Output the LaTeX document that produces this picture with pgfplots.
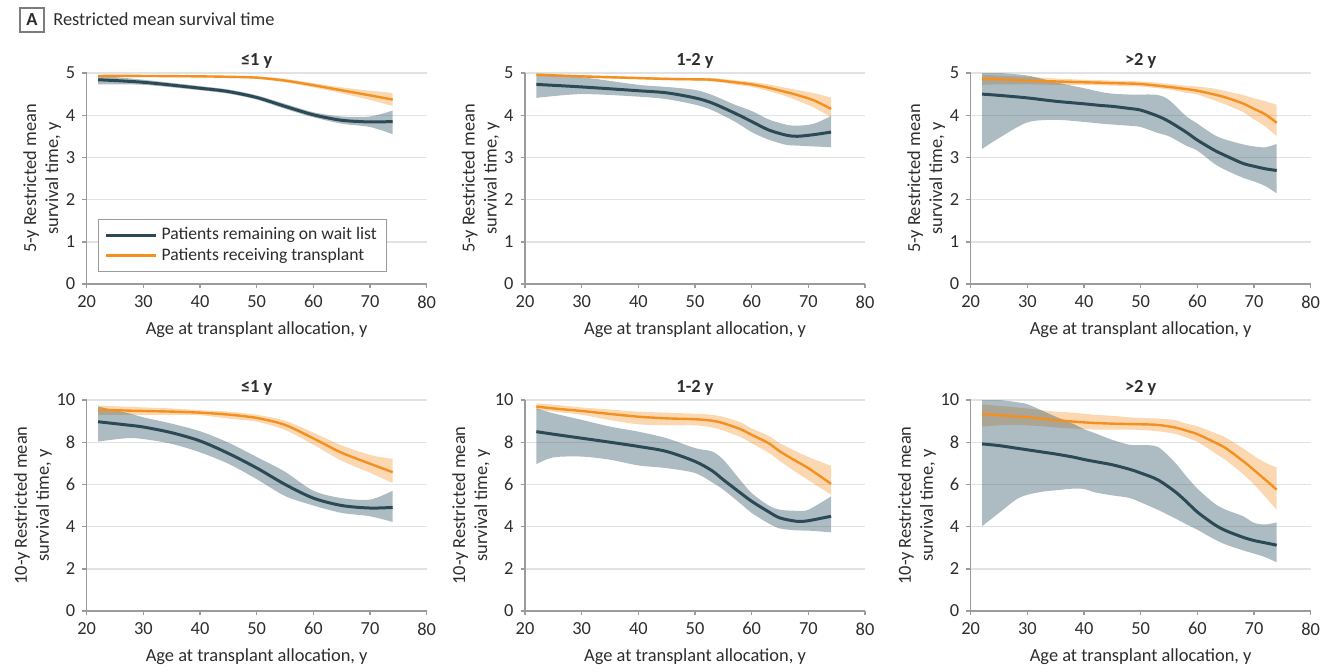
\documentclass[border=0pt]{standalone}
\usepackage{pgfplots}
\pgfplotsset{compat=1.18}
\usepackage{pgfplotstable}
\usepgfplotslibrary{fillbetween}
\usepackage{fontspec}
\setmainfont{Carlito}

\definecolor{waitc}{RGB}{44,74,86}
\definecolor{waitband}{RGB}{60,95,112}
\definecolor{transc}{RGB}{243,144,32}
\definecolor{axisgray}{RGB}{155,155,155}
\definecolor{gridgray}{RGB}{226,226,226}
\definecolor{labelc}{RGB}{45,45,45}

% columns: age, wait-list mean/low/high, transplant mean/low/high
\pgfplotstableread{
x  wm   wl   wh   tm   tl   th
22 4.84 4.73 4.94 4.93 4.90 4.96
30 4.78 4.72 4.84 4.93 4.91 4.95
40 4.64 4.59 4.69 4.92 4.90 4.94
45 4.56 4.51 4.61 4.91 4.89 4.93
50 4.42 4.37 4.47 4.89 4.86 4.92
55 4.21 4.15 4.27 4.82 4.78 4.86
60 4.01 3.95 4.07 4.71 4.66 4.76
65 3.88 3.80 3.97 4.59 4.52 4.66
70 3.84 3.72 3.97 4.47 4.36 4.58
74 3.85 3.55 4.11 4.37 4.22 4.53
}\tFiveA

\pgfplotstableread{
x  wm   wl   wh   tm   tl   th
22 4.73 4.41 4.96 4.96 4.93 4.99
30 4.67 4.50 4.90 4.92 4.89 4.95
40 4.58 4.44 4.72 4.88 4.85 4.91
45 4.53 4.38 4.67 4.86 4.83 4.89
50 4.41 4.25 4.60 4.85 4.82 4.88
53 4.29 4.12 4.48 4.84 4.80 4.88
57 4.05 3.85 4.25 4.78 4.73 4.83
60 3.85 3.60 4.10 4.73 4.67 4.79
63 3.65 3.42 3.90 4.65 4.57 4.73
66 3.53 3.30 3.78 4.55 4.45 4.65
68 3.50 3.28 3.75 4.48 4.35 4.60
71 3.54 3.26 3.80 4.35 4.18 4.52
74 3.60 3.24 3.98 4.15 3.95 4.42
}\tFiveB

\pgfplotstableread{
x  wm   wl   wh   tm   tl   th
22 4.50 3.20 5.00 4.86 4.72 4.96
25 4.47 3.46 5.00 4.85 4.73 4.94
30 4.41 3.83 4.94 4.82 4.73 4.91
35 4.33 3.89 4.78 4.80 4.72 4.87
40 4.27 3.84 4.64 4.78 4.72 4.84
43 4.23 3.80 4.55 4.77 4.71 4.83
45 4.21 3.78 4.51 4.76 4.70 4.82
48 4.16 3.75 4.49 4.75 4.69 4.81
50 4.12 3.72 4.49 4.74 4.68 4.80
53 3.98 3.58 4.48 4.70 4.64 4.77
55 3.85 3.50 4.36 4.67 4.61 4.74
58 3.60 3.28 3.98 4.62 4.53 4.70
60 3.41 3.16 3.80 4.58 4.49 4.68
63 3.17 2.85 3.53 4.49 4.35 4.63
65 3.04 2.70 3.42 4.42 4.25 4.57
68 2.86 2.52 3.31 4.28 4.08 4.48
70 2.79 2.43 3.26 4.15 3.90 4.40
72 2.73 2.32 3.24 4.02 3.73 4.33
74 2.69 2.15 3.32 3.82 3.50 4.25
}\tFiveC

\pgfplotstableread{
x  wm   wl   wh   tm   tl   th
22 8.97 8.03 9.69 9.54 9.30 9.74
27 8.82 8.19 9.40 9.50 9.30 9.68
30 8.72 8.15 9.18 9.48 9.30 9.65
35 8.45 7.92 8.88 9.45 9.30 9.60
40 8.06 7.52 8.52 9.40 9.28 9.52
45 7.47 6.98 7.98 9.31 9.12 9.45
50 6.78 6.25 7.30 9.15 8.97 9.30
55 6.00 5.45 6.60 8.82 8.58 9.02
60 5.35 5.00 5.70 8.18 7.88 8.45
65 5.00 4.65 5.35 7.50 7.12 7.85
70 4.88 4.49 5.28 6.98 6.55 7.40
74 4.91 4.22 5.70 6.58 6.06 7.21
}\tTenA

\pgfplotstableread{
x  wm   wl   wh   tm   tl   th
22 8.50 6.96 9.61 9.69 9.55 9.84
25 8.38 7.28 9.37 9.60 9.45 9.78
30 8.19 7.32 9.06 9.48 9.30 9.65
35 8.00 7.17 8.74 9.34 9.05 9.55
40 7.80 6.90 8.50 9.21 8.85 9.45
45 7.56 6.77 8.19 9.13 8.80 9.40
50 7.09 6.54 7.72 9.09 8.80 9.35
53 6.65 6.10 7.56 9.02 8.70 9.30
55 6.22 5.75 7.17 8.90 8.55 9.20
58 5.60 5.10 6.20 8.62 8.25 8.95
60 5.20 4.65 5.59 8.35 7.95 8.65
63 4.70 4.15 5.00 7.95 7.50 8.30
65 4.41 3.91 4.80 7.56 7.10 7.95
68 4.25 3.82 4.75 7.08 6.55 7.55
70 4.28 3.81 4.80 6.77 6.20 7.30
74 4.49 3.73 5.43 6.03 5.51 6.88
}\tTenB

\pgfplotstableread{
x  wm   wl   wh    tm   tl   th
22 7.92 4.02 10.00 9.34 8.74 9.80
25 7.84 4.65 10.00 9.28 8.80 9.72
28 7.72 5.28 9.90  9.22 8.82 9.65
30 7.64 5.51 9.80  9.18 8.80 9.60
33 7.52 5.67 9.45  9.10 8.75 9.50
35 7.44 5.72 9.21  9.05 8.70 9.45
38 7.30 5.80 8.88  8.98 8.65 9.40
40 7.18 5.78 8.62  8.94 8.62 9.35
42 7.08 5.62 8.42  8.91 8.60 9.30
45 6.93 5.48 8.11  8.88 8.60 9.25
48 6.72 5.36 7.88  8.86 8.60 9.18
50 6.54 5.15 7.86  8.85 8.58 9.15
53 6.22 4.80 7.78  8.82 8.52 9.12
56 5.67 4.40 7.05  8.70 8.40 9.05
58 5.20 4.12 6.40  8.55 8.22 8.88
60 4.69 3.85 5.80  8.38 8.02 8.76
63 4.10 3.40 5.10  8.00 7.50 8.45
65 3.81 3.15 4.80  7.72 7.15 8.22
68 3.50 2.88 4.50  7.12 6.50 7.72
70 3.34 2.72 4.18  6.68 6.00 7.35
72 3.23 2.55 4.10  6.22 5.40 7.03
74 3.12 2.31 4.20  5.75 4.80 6.80
}\tTenC

\newcommand\pxu{0.5pt}

% bands and curves of one panel; #1 = table, #2 = unique prefix for path names
\newcommand\survcurves[2]{%
  \addplot[name path=#2tu, draw=none, smooth] table[x=x,y=th]{#1};
  \addplot[name path=#2tl, draw=none, smooth] table[x=x,y=tl]{#1};
  \addplot[fill=transc, fill opacity=0.35, draw=none] fill between[of=#2tu and #2tl];
  \addplot[transc, line width=1.2pt, smooth] table[x=x,y=tm]{#1};
  \addplot[name path=#2wu, draw=none, smooth] table[x=x,y=wh]{#1};
  \addplot[name path=#2wl, draw=none, smooth] table[x=x,y=wl]{#1};
  \addplot[fill=waitband, fill opacity=0.42, draw=none] fill between[of=#2wu and #2wl];
  \addplot[waitc, line width=1.5pt, smooth] table[x=x,y=wm]{#1};
}

\pgfplotsset{
  rmst/.style={
    scale only axis, width=170pt, height=105.5pt,
    xmin=20, xmax=80, ymin=0,
    axis x line*=bottom, axis y line*=left,
    axis line style={draw=axisgray, line width=0.7pt, -},
    xtick={20,30,...,80},
    tick align=outside, major tick length=2.2pt,
    tick style={draw=axisgray, line width=0.7pt},
    ymajorgrids, grid style={draw=gridgray, line width=0.7pt},
    tick label style={font=\fontsize{9.2}{10}\selectfont, text=labelc},
    /pgf/number format/assume math mode=true,
    label style={font=\fontsize{9.2}{11}\selectfont, text=labelc},
    title style={font=\fontsize{9.2}{11}\selectfont\bfseries, text=labelc, yshift=-7pt},
    xlabel={Age at transplant allocation, y},
    ylabel style={align=center},
    ylabel shift=-4.5pt,
  },
  five/.style={rmst, ymax=5, ytick={0,1,...,5},
    ylabel={5-y Restricted mean\\survival time, y}},
  ten/.style={rmst, ymax=10, ytick={0,2,...,10},
    ylabel={10-y Restricted mean\\survival time, y}},
}

\begin{document}
\begin{tikzpicture}
\path (0,0) rectangle ({1337*\pxu},{-669*\pxu});

% panel heading
\draw[draw=axisgray!80!black, line width=0.6pt] ({20*\pxu},{-8*\pxu}) rectangle ({44*\pxu},{-32*\pxu});
\node[font=\fontsize{9.2}{11}\selectfont\bfseries, text=labelc] at ({32*\pxu},{-20*\pxu}) {A};
\node[font=\fontsize{9.2}{11}\selectfont, text=labelc, anchor=base west, inner sep=0pt]
  at ({53*\pxu},{-25.5*\pxu}) {Restricted mean survival time};

% 5-year restricted mean survival time
\begin{axis}[five, at={({86.7*\pxu},{-284*\pxu})}, anchor=south west, title={≤1 y},
  legend style={at={(0.033,0.056)}, anchor=south west, draw=axisgray, line width=0.6pt,
    fill=white, font=\fontsize{8.8}{10.5}\selectfont, text=labelc,
    inner xsep=3pt, inner ysep=2pt, row sep=-1.2pt, cells={anchor=west}},
  legend image code/.code={\draw[#1] (0pt,0pt) -- (25pt,0pt);}]
  \addlegendimage{waitc, line width=1.5pt}
  \addlegendentry{Patients remaining on wait list}
  \addlegendimage{transc, line width=1.5pt}
  \addlegendentry{Patients receiving transplant}
  \survcurves{\tFiveA}{fa}
\end{axis}

\begin{axis}[five, at={({525*\pxu},{-284*\pxu})}, anchor=south west, title={1-2 y}]
  \survcurves{\tFiveB}{fb}
\end{axis}

\begin{axis}[five, at={({970.7*\pxu},{-284*\pxu})}, anchor=south west, title={>2 y}]
  \survcurves{\tFiveC}{fc}
\end{axis}

% 10-year restricted mean survival time
\begin{axis}[ten, at={({86.7*\pxu},{-611*\pxu})}, anchor=south west, title={≤1 y}]
  \survcurves{\tTenA}{ta}
\end{axis}

\begin{axis}[ten, at={({525*\pxu},{-611*\pxu})}, anchor=south west, title={1-2 y}]
  \survcurves{\tTenB}{tb}
\end{axis}

\begin{axis}[ten, at={({970.7*\pxu},{-611*\pxu})}, anchor=south west, title={>2 y}]
  \survcurves{\tTenC}{tc}
\end{axis}
\end{tikzpicture}
\end{document}
